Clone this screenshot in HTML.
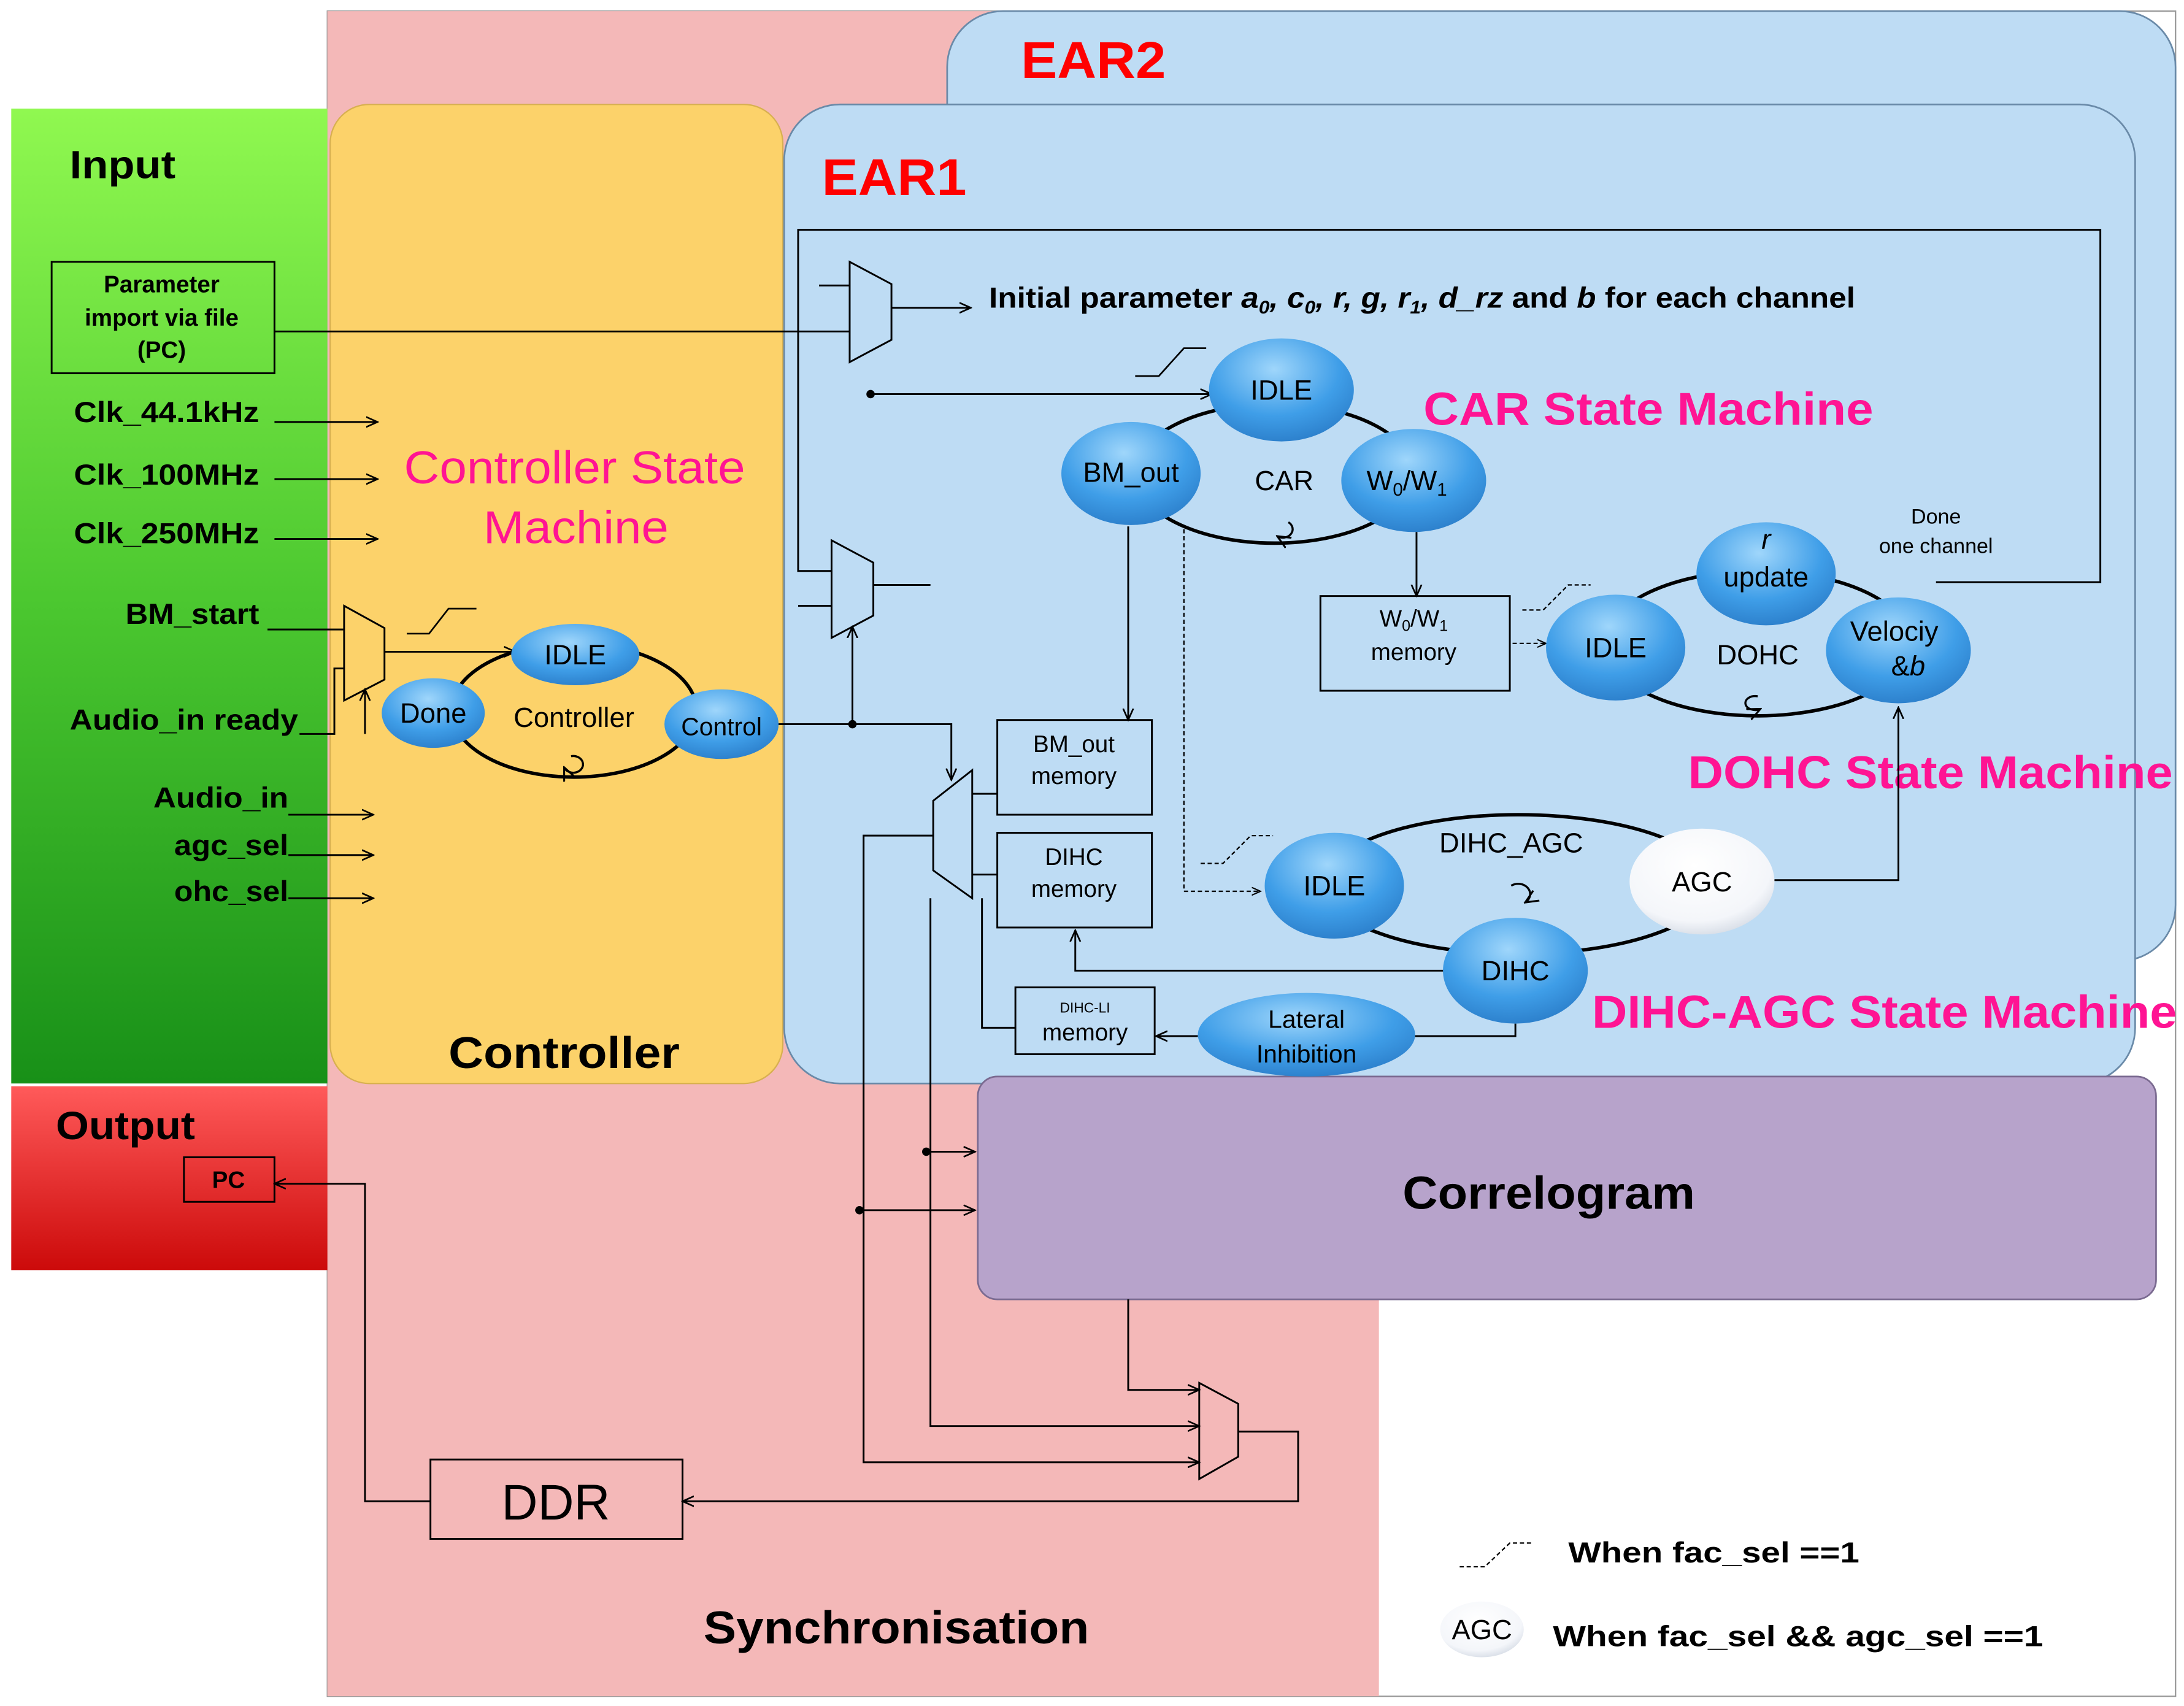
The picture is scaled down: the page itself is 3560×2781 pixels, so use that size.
<!DOCTYPE html>
<html><head><meta charset="utf-8"><style>html,body{margin:0;padding:0;background:#fff}svg{display:block}text{font-family:"Liberation Sans",Arial,sans-serif}</style></head><body>
<svg width="3560" height="2781" viewBox="0 0 1568 1225" xmlns="http://www.w3.org/2000/svg">
<defs>
<linearGradient id="gin" x1="0" y1="0" x2="0" y2="1"><stop offset="0" stop-color="#90f850"/><stop offset="0.5" stop-color="#4cc830"/><stop offset="1" stop-color="#189018"/></linearGradient>
<linearGradient id="gout" x1="0" y1="0" x2="0" y2="1"><stop offset="0" stop-color="#ff5a5a"/><stop offset="1" stop-color="#cc0a0a"/></linearGradient>
<radialGradient id="gb" cx="0.45" cy="0.3" r="0.75"><stop offset="0" stop-color="#9fd6fb"/><stop offset="0.6" stop-color="#3f9ee8"/><stop offset="1" stop-color="#2a7cc8"/></radialGradient>
<radialGradient id="gw" cx="0.45" cy="0.35" r="0.75"><stop offset="0" stop-color="#ffffff"/><stop offset="0.7" stop-color="#f4f6fa"/><stop offset="1" stop-color="#c8d0dc"/></radialGradient>
<marker id="ar" viewBox="0 0 10 10" refX="9" refY="5" markerWidth="7" markerHeight="7" orient="auto"><path d="M0,1 L9,5 L0,9" fill="none" stroke="#000" stroke-width="1.3"/></marker>
</defs>
<rect x="235" y="8" width="1327" height="1210" fill="#fff" stroke="#999" stroke-width="1"/>
<rect x="235" y="8" width="755" height="1210" fill="#f4b8b8"/>
<rect x="8" y="78" width="227" height="700" fill="url(#gin)"/>
<rect x="8" y="780" width="227" height="132" fill="url(#gout)"/>
<rect x="680" y="8" width="882" height="682" rx="40" fill="#bedcf4" stroke="#6a8aa8" stroke-width="1.2"/>
<rect x="237" y="75" width="325" height="703" rx="28" fill="#fcd26a" stroke="#d8b050" stroke-width="1"/>
<rect x="563" y="75" width="970" height="703" rx="40" fill="#bedcf4" stroke="#6a8aa8" stroke-width="1.2"/>
<rect x="702" y="773" width="846" height="160" rx="14" fill="#b7a3cb" stroke="#7a6a90" stroke-width="1.2"/>
<g fill="#f00" font-weight="bold" font-size="37"><text x="733" y="56" textLength="104" lengthAdjust="spacingAndGlyphs">EAR2</text><text x="590" y="140" textLength="104" lengthAdjust="spacingAndGlyphs">EAR1</text></g>
<g font-weight="bold" fill="#000"><text x="50" y="128" font-size="28" textLength="76" lengthAdjust="spacingAndGlyphs">Input</text><text x="40" y="818" font-size="28" textLength="100" lengthAdjust="spacingAndGlyphs">Output</text><text x="322" y="767" font-size="32" textLength="166" lengthAdjust="spacingAndGlyphs">Controller</text><text x="1007" y="868" font-size="33" textLength="210" lengthAdjust="spacingAndGlyphs">Correlogram</text><text x="505" y="1180" font-size="33" textLength="277" lengthAdjust="spacingAndGlyphs">Synchronisation</text></g>
<g fill="#ff1493" font-size="33" font-weight="bold"><text x="1022" y="305" textLength="323" lengthAdjust="spacingAndGlyphs">CAR State Machine</text><text x="1212" y="566" textLength="348" lengthAdjust="spacingAndGlyphs">DOHC State Machine</text><text x="1143" y="738" textLength="420" lengthAdjust="spacingAndGlyphs">DIHC-AGC State Machine</text></g>
<g fill="#ff1493" font-size="33"><text x="290" y="347" textLength="245" lengthAdjust="spacingAndGlyphs">Controller State</text><text x="347" y="390" textLength="133" lengthAdjust="spacingAndGlyphs">Machine</text></g>
<g stroke="#000" stroke-width="1.3" fill="none">
<rect x="37" y="188" width="160" height="80"/><rect x="948" y="428" width="136" height="68"/><rect x="716" y="517" width="111" height="68"/><rect x="716" y="598" width="111" height="68"/><rect x="729" y="709" width="100" height="48"/><rect x="132" y="831" width="65" height="32"/><rect x="309" y="1048" width="181" height="57"/>
<polygon points="610,188 640,204 640,244 610,260"/><polygon points="597,388 627,404 627,442 597,458"/><polygon points="247,435 276,451 276,488 247,503"/><polygon points="698,553 698,645 670,625 670,575"/><polygon points="861,993 889,1008 889,1046 861,1062"/>
<path d="M197,238 H610"/><path d="M640,221 H697" marker-end="url(#ar)"/>
<path d="M588,205 H610 M573,238 V165 H1508 V418 H1390"/>
<path d="M573,238 V410 H597 M573,435 H597 M627,420 H668"/>
<path d="M197,303 H271" marker-end="url(#ar)"/><path d="M197,344 H271" marker-end="url(#ar)"/><path d="M197,387 H271" marker-end="url(#ar)"/>
<path d="M192,452 H247 M215,527 H240 V480 H247"/>
<path d="M276,468 H370" marker-end="url(#ar)"/>
<path d="M262,527 V495" marker-end="url(#ar)"/>
<path d="M207,585 H268" marker-end="url(#ar)"/><path d="M207,614 H268" marker-end="url(#ar)"/><path d="M207,645 H268" marker-end="url(#ar)"/>
<path d="M558,520 H683 V560" marker-end="url(#ar)"/><path d="M612,520 V450" marker-end="url(#ar)"/>
<path d="M625,283 H870" marker-end="url(#ar)"/>
<path d="M810,378 V517" marker-end="url(#ar)"/><path d="M1017,382 V428" marker-end="url(#ar)"/>
<path d="M698,570 H716 M698,628 H716"/><path d="M705,645 V738 H729"/>
<path d="M1040,697 H772 V668" marker-end="url(#ar)"/>
<path d="M1088,735 V744 H1016"/><path d="M860,744 H830" marker-end="url(#ar)"/>
<path d="M1274,632 H1363 V508" marker-end="url(#ar)"/>
<path d="M670,600 H620 V1050 H861" marker-end="url(#ar)"/>
<path d="M668,645 V1024 H861" marker-end="url(#ar)"/>
<path d="M665,827 H700" marker-end="url(#ar)"/><path d="M617,869 H700" marker-end="url(#ar)"/>
<path d="M810,933 V998 H861" marker-end="url(#ar)"/>
<path d="M889,1028 H932 V1078 H490" marker-end="url(#ar)"/>
<path d="M309,1078 H262 V850 H197" marker-end="url(#ar)"/>
</g>
<g stroke="#000" stroke-width="1" fill="none" stroke-dasharray="3,2"><path d="M850,380 V640 H905" marker-end="url(#ar)"/><path d="M1086,462 H1110" marker-end="url(#ar)"/>
<path d="M862,620 H878 L898,600 H914"/><path d="M1093,438 H1108 L1126,420 H1142"/><path d="M1048,1125 H1066 L1084,1108 H1100"/></g>
<g stroke="#000" stroke-width="1.2" fill="none"><path d="M815,270 H832 L850,250 H866"/><path d="M292,455 H308 L322,437 H342"/></g>
<g fill="#000"><circle cx="625" cy="283" r="3"/><circle cx="612" cy="520" r="3"/><circle cx="665" cy="827" r="3"/><circle cx="617" cy="869" r="3"/></g>
<g stroke="#000" stroke-width="2.5" fill="none"><ellipse cx="412" cy="510" rx="88" ry="48"/><ellipse cx="915" cy="340" rx="100" ry="50"/><ellipse cx="1262" cy="462" rx="110" ry="52"/><ellipse cx="1090" cy="635" rx="140" ry="50"/></g>
<g stroke="#000" stroke-width="1.5" fill="none"><path d="M410,543 a7,6 0 1 1 -5,8" marker-end="url(#ar)"/><path d="M925,375 a7,6 0 1 1 -8,10" marker-end="url(#ar)"/><path d="M1262,500 a7,5 0 1 0 2,9" marker-end="url(#ar)"/><path d="M1085,636 a7,6 0 1 1 10,12" marker-end="url(#ar)"/></g>
<g fill="url(#gb)">
<ellipse cx="413" cy="470" rx="46" ry="22"/><ellipse cx="311" cy="512" rx="37" ry="25"/><ellipse cx="518" cy="520" rx="41" ry="25"/>
<ellipse cx="920" cy="280" rx="52" ry="37"/><ellipse cx="812" cy="340" rx="50" ry="37"/><ellipse cx="1015" cy="345" rx="52" ry="37"/>
<ellipse cx="1268" cy="412" rx="50" ry="37"/><ellipse cx="1160" cy="465" rx="50" ry="38"/><ellipse cx="1363" cy="467" rx="52" ry="38"/>
<ellipse cx="958" cy="636" rx="50" ry="38"/><ellipse cx="1088" cy="697" rx="52" ry="38"/><ellipse cx="938" cy="743" rx="78" ry="30"/>
</g>
<ellipse cx="1222" cy="633" rx="52" ry="38" fill="url(#gw)"/>
<ellipse cx="1064" cy="1170" rx="30" ry="20" fill="url(#gw)"/>
<g font-size="20" fill="#000" text-anchor="middle">
<text x="413" y="477">IDLE</text><text x="311" y="519">Done</text><text x="518" y="528" font-size="18">Control</text><text x="412" y="522">Controller</text>
<text x="920" y="287">IDLE</text><text x="812" y="346">BM_out</text><text x="1010" y="352">W<tspan font-size="13" dy="4">0</tspan><tspan dy="-4">/W</tspan><tspan font-size="13" dy="4">1</tspan></text><text x="922" y="352">CAR</text>
<text x="1268" y="394" font-style="italic">r</text><text x="1268" y="421">update</text><text x="1160" y="472">IDLE</text><text x="1360" y="460">Velociy</text><text x="1370" y="485">&amp;<tspan font-style="italic">b</tspan></text><text x="1262" y="477">DOHC</text>
<text x="958" y="643">IDLE</text><text x="1088" y="704">DIHC</text><text x="1222" y="640">AGC</text><text x="1085" y="612">DIHC_AGC</text>
<text x="938" y="738" font-size="18">Lateral</text><text x="938" y="763" font-size="18">Inhibition</text>
<text x="1064" y="1177">AGC</text>
<text x="1015" y="450" font-size="17">W<tspan font-size="11" dy="3">0</tspan><tspan dy="-3">/W</tspan><tspan font-size="11" dy="3">1</tspan></text><text x="1015" y="474" font-size="17">memory</text>
<text x="771" y="540" font-size="17">BM_out</text><text x="771" y="563" font-size="17">memory</text>
<text x="771" y="621" font-size="17">DIHC</text><text x="771" y="644" font-size="17">memory</text>
<text x="779" y="727" font-size="10">DIHC-LI</text><text x="779" y="747" font-size="17">memory</text>
<text x="1390" y="376" font-size="15">Done</text><text x="1390" y="397" font-size="15">one channel</text>
<text x="399" y="1091" font-size="36">DDR</text>
</g>
<g font-size="17" font-weight="bold" text-anchor="middle"><text x="116" y="210">Parameter</text><text x="116" y="234">import via file</text><text x="116" y="257">(PC)</text><text x="164" y="853">PC</text></g>
<g font-size="21" font-weight="bold"><text x="53" y="303" textLength="133" lengthAdjust="spacingAndGlyphs">Clk_44.1kHz</text><text x="53" y="348" textLength="133" lengthAdjust="spacingAndGlyphs">Clk_100MHz</text><text x="53" y="390" textLength="133" lengthAdjust="spacingAndGlyphs">Clk_250MHz</text><text x="90" y="448" textLength="96" lengthAdjust="spacingAndGlyphs">BM_start</text><text x="50" y="524" textLength="164" lengthAdjust="spacingAndGlyphs">Audio_in ready</text><text x="110" y="580" textLength="97" lengthAdjust="spacingAndGlyphs">Audio_in</text><text x="125" y="614" textLength="82" lengthAdjust="spacingAndGlyphs">agc_sel</text><text x="125" y="647" textLength="82" lengthAdjust="spacingAndGlyphs">ohc_sel</text>
<text x="710" y="221" textLength="622" lengthAdjust="spacingAndGlyphs">Initial parameter <tspan font-style="italic">a<tspan font-size="13" dy="4">0</tspan><tspan dy="-4">, c</tspan><tspan font-size="13" dy="4">0</tspan><tspan dy="-4">, r, g, r</tspan><tspan font-size="13" dy="4">1</tspan><tspan dy="-4">, d_rz</tspan></tspan> and <tspan font-style="italic">b</tspan> for each channel</text>
<text x="1126" y="1122" textLength="209" lengthAdjust="spacingAndGlyphs">When fac_sel ==1</text><text x="1115" y="1182" textLength="352" lengthAdjust="spacingAndGlyphs">When fac_sel &amp;&amp; agc_sel ==1</text></g>
</svg>
</body></html>
